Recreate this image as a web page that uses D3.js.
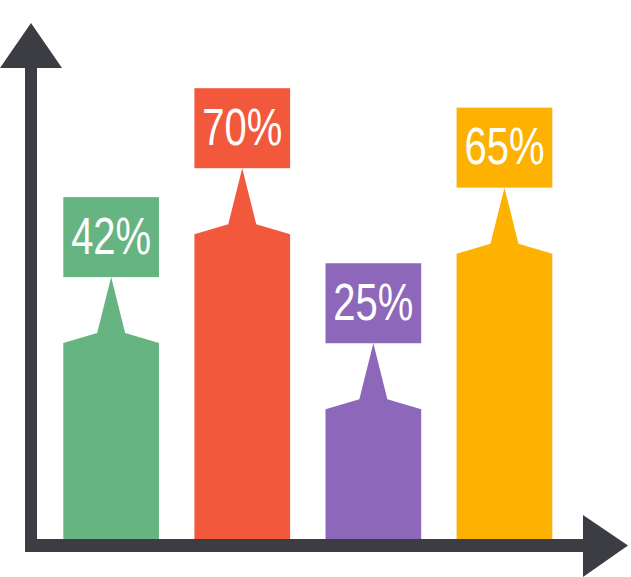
<!DOCTYPE html>
<html>
<head>
<meta charset="utf-8">
<script src="https://cdn.jsdelivr.net/npm/d3@7"></script>
<style>
  html, body { margin: 0; padding: 0; background: #ffffff; }
  svg { display: block; }
</style>
</head>
<body>
<svg id="chart" width="631" height="577"></svg>
<script>
// ---- data ----
const categories = ["A", "B", "C", "D"];
const values = [42, 70, 25, 65];
const labels = ["42%", "70%", "25%", "65%"];
const colors = ["#67b483", "#f2583b", "#8d67b9", "#fdb100"];

// ---- layout ----
const axisColor = "#3b3d43";
const baseY = 539;          // top of x-axis bar = bottom of bars
const axisX = 25;           // left edge of y-axis stem
const stemW = 12, barAxisH = 13;

const svg = d3.select("#chart");

const x = d3.scaleBand()
  .domain(categories)
  .range([63.3, 552.3])
  .paddingInner(0.27)
  .paddingOuter(0);

// value -> y of bar shoulder (outer edge)
const y = d3.scaleLinear().domain([0, 100]).range([506.5, 117.5]);

const spikeH = 56, shoulderDrop = 10, spikeHalf = 14, boxH = 80;

const g = svg.append("g");

categories.forEach((c, i) => {
  const left = x(c), right = x(c) + x.bandwidth(), cx = left + x.bandwidth() / 2;
  const sy = y(values[i]);                 // shoulder outer y
  const innerY = sy - shoulderDrop;        // spike base y
  const apexY = innerY - spikeH;           // spike apex = box bottom
  const pts = [
    [left, baseY], [left, sy], [cx - spikeHalf, innerY], [cx, apexY],
    [cx + spikeHalf, innerY], [right, sy], [right, baseY]
  ];
  g.append("path")
    .attr("d", d3.line()(pts) + "Z")
    .attr("fill", colors[i]);
  g.append("rect")
    .attr("x", left).attr("y", apexY - boxH)
    .attr("width", x.bandwidth()).attr("height", boxH)
    .attr("fill", colors[i]);
  g.append("text")
    .attr("x", cx).attr("y", apexY - boxH + 56.7)
    .attr("text-anchor", "middle")
    .attr("fill", "#ffffff")
    .attr("font-family", "'Liberation Sans', Arial, sans-serif")
    .attr("font-weight", 400)
    .attr("font-size", 51)
    .attr("textLength", 80)
    .attr("lengthAdjust", "spacingAndGlyphs")
    .text(labels[i]);
});

// ---- axes (arrows) ----
const ax = svg.append("g").attr("fill", axisColor);
ax.append("rect").attr("x", axisX).attr("y", 60)
  .attr("width", stemW).attr("height", baseY + barAxisH - 60);
ax.append("path").attr("d", d3.line()([[0, 68], [axisX + stemW / 2, 23], [62, 68]]) + "Z");
ax.append("rect").attr("x", axisX).attr("y", baseY)
  .attr("width", 590 - axisX).attr("height", barAxisH);
ax.append("path").attr("d", d3.line()([[583, 515], [628, baseY + barAxisH / 2], [583, 577]]) + "Z");
</script>
</body>
</html>
